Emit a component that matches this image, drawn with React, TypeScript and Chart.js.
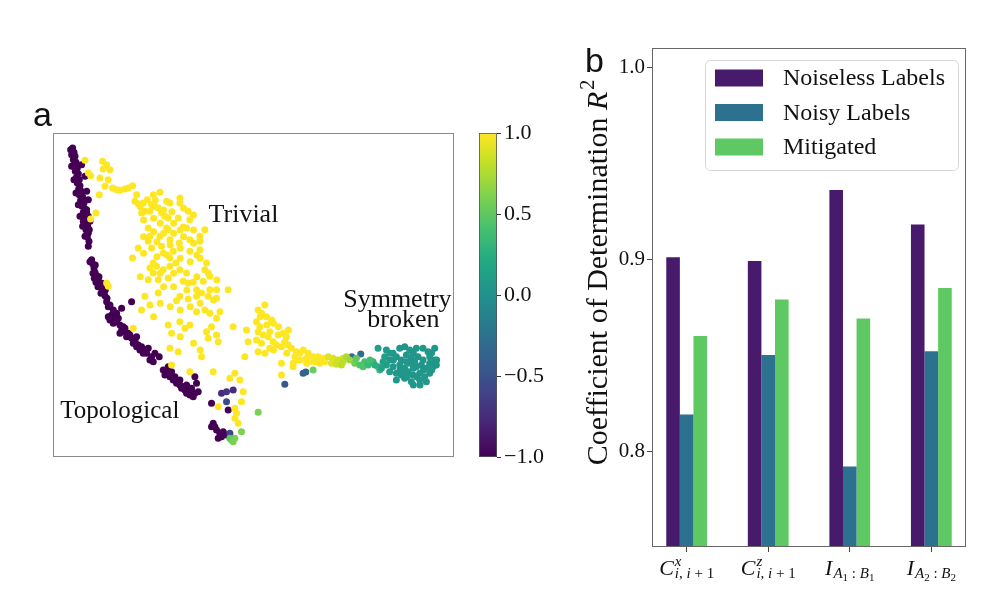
import React, { useEffect, useRef } from 'react';
import { Chart, registerables } from 'chart.js';

Chart.register(...registerables);

const SERIF = '"Liberation Serif", "Times New Roman", serif';
const SANS = '"Liberation Sans", Arial, sans-serif';

// ---------- Panel a: embedding (values read in the picture's own frame) ----------
const purplePts: [number, number][] = [
  [97,54],[101,67],[104,79],[99,89],[107,97],[102,107],[111,114],[105,124],[114,131],[109,141],
  [117,149],[111,159],[119,167],[115,177],[123,184],[117,194],[127,201],[121,211],[131,219],[125,229],
  [134,237],[129,247],[136,255],[131,265],[139,271],[135,281],[142,289],[137,299],[144,309],[141,321],
  [146,334],[144,349],[94,74],[124,224],[139,239],[144,259],[129,274],
  [124,104],[134,139],[139,184],[144,209],[139,249],[149,274],[147,299],
  [91,59],[94,109],[101,149],[107,189],[114,224],[119,259],[127,289],[134,319],
  [154,389],[157,401],[161,414],[164,427],[169,437],[174,449],[167,457],[179,464],[184,474],[189,484],[194,497],
  [149,395],[165,405],[158,430],[176,440],[162,445],[185,460],[173,470],[195,480],[182,490],[200,505],
  [199,515],[204,530],[219,540],[214,555],[224,565],[209,570],[229,575],[239,585],[249,590],[244,600],
  [254,605],[264,610],[259,620],[274,625],[284,630],[279,640],[294,645],[304,650],[299,660],[314,660],
  [324,655],[319,670],[334,680],[329,690],[357,680],[274,515],[244,535],
  [209,525],[229,550],[204,560],[234,565],[219,580],[254,595],[239,610],[269,615],[289,620],[289,650],
  [309,670],[344,670],[339,695],[284,635],
  [369,720],[379,730],[384,710],[389,740],[399,750],[409,760],[419,765],[424,775],[434,780],[444,785],
  [449,795],[459,800],[439,790],[454,775],[464,740],[469,760],[414,753],[429,770],[374,735],
  [394,725],[404,740],[419,750],[439,765],[449,775],[464,790],[474,785],[379,720],
  [514,820],[564,840],[519,880],[514,890],[529,900],[539,910],[549,905],[559,915],[544,920],[524,890],[534,925],
];

const yellowPts: [number, number][] = [
  [134,91],[187,94],[199,104],[189,117],[209,119],[144,129],[151,137],[179,144],[204,149],[194,169],
  [217,174],[229,179],[239,181],[254,177],[264,174],[277,167],[177,194],[289,194],[339,194],[359,187],
  [284,214],[294,221],[309,219],[321,209],[334,224],[344,229],[379,214],[389,219],[419,204],[419,219],
  [354,234],[364,249],[304,249],[314,244],[329,244],[374,259],[384,264],[414,264],[444,244],[449,269],
  [439,294],[429,291],[494,299],[167,249],[151,267],[324,294],[329,319],[379,294],[384,299],[359,319],
  [389,329],[417,339],[449,329],[479,319],[479,334],[324,334],[294,354],[334,354],[364,349],[369,369],
  [399,364],[389,384],[449,364],[479,359],[277,384],[339,399],[349,409],[369,419],[389,409],[407,399],
  [419,419],[329,414],[339,429],[499,399],[494,419],[504,429],[439,429],[199,459],[204,469],[324,449],
  [354,449],[384,444],[429,454],[444,459],[459,457],[489,454],[509,439],[469,479],[484,489],[509,479],
  [529,479],[564,479],[314,499],[354,489],[419,499],[469,499],[504,499],
  [300,230],[345,210],[370,240],[395,245],[430,235],[460,255],[310,270],[340,265],[360,280],[400,280],
  [420,300],[460,300],[340,305],[370,310],[400,310],[430,320],[460,340],[310,320],[350,335],[390,345],
  [420,355],[470,375],[310,370],[350,380],[380,375],[420,385],[450,395],[480,385],[360,430],[400,430],
  [470,440],[300,440],[440,480],[400,470],[370,470],[530,450],[520,510],[480,520],[450,530],[420,540],
  [390,530],[360,520],[340,560],[420,620],[460,640],[480,660],
  [329,525],[304,540],[409,512],[444,507],[529,505],[384,585],[394,610],[419,575],[434,595],[449,585],
  [469,545],[494,540],[509,550],[529,565],[539,545],[514,590],[499,605],[504,625],[529,615],[534,635],
  [389,655],[414,665],[394,705],[449,725],[484,680],[519,725],[579,590],[619,600],[624,635],[614,680],
  [584,730],[599,750],[569,745],[609,785],[604,815],[584,835],[589,850],[584,865],[594,880],[534,830],[279,595],
  [654,540],[674,525],[664,550],[679,560],[694,570],[649,575],[659,590],[654,605],[669,615],[689,605],
  [684,620],[649,630],[664,640],[699,635],[714,615],[729,610],[739,620],[709,645],[724,650],[734,635],
  [744,645],[754,655],[769,665],[764,680],[779,670],[759,700],[724,700],[724,735],[789,660],[804,670],
  [819,680],[834,680],[849,685],[819,695],[839,700],[854,695],[799,685],[759,710],[674,670],[654,665],[689,655],
  [700,580],[715,590],[745,600],[700,660],[740,670],[780,690],[800,700],[830,695],[770,690],[680,585],[660,560],
];

const mixedPts: [number, number][] = [
  [544,790],[559,785],[579,780],[569,910],[559,815],[734,763],[789,730],[797,726],[935,680],[962,672],
  [574,930],[584,925],[569,925],[579,935],[604,905],[654,847],[819,720],
  [864,680],[879,685],[894,690],[909,685],[874,700],[889,703],[904,705],[909,695],[919,680],
  [929,690],[944,700],[949,685],[959,705],[974,695],[969,710],[984,705],[999,695],[1014,710],
  [1019,720],[1004,705],[990,690],
];
const mixedC: number[] = [
  -0.75,-0.7,-0.75,-0.6,-0.55,-0.45,-0.4,-0.35,-0.3,-0.3,
  0.55,0.6,0.5,0.6,0.6,0.6,0.55,
  0.9,0.9,0.85,0.85,0.9,0.85,0.8,0.8,0.75,
  0.7,0.55,0.5,0.45,0.4,0.45,0.35,0.3,0.3,
  0.35,0.25,0.4,
];

const tealPts: [number, number][] = [
  [1014,655],[1039,660],[1059,670],[1079,655],[1094,650],[1109,660],[1129,655],[1149,655],[1164,665],[1184,655],
  [1034,680],[1049,690],[1069,680],[1084,690],[1099,675],[1114,685],[1134,680],[1149,690],[1169,680],[1184,690],
  [1039,705],[1059,710],[1079,705],[1094,715],[1109,700],[1129,710],[1144,705],[1159,715],[1179,710],[1189,705],
  [1049,725],[1069,730],[1084,735],[1104,725],[1119,735],[1139,730],[1154,740],[1169,730],
  [1069,750],[1094,745],[1114,755],[1139,750],[1159,755],[1029,695],[1024,715],[1099,695],[1124,695],[1169,700],
  [1060,690],[1090,730],[1120,715],[1150,720],[1175,720],[1130,740],[1100,740],[1050,670],[1120,670],[1175,668],
  [1190,690],[1080,720],[1140,765],[1120,765],
];
const tealC: number[] = [
  0.12,0.08,0.05,0.05,0.03,0.05,0.04,0.05,0.06,0.04,
  0.1,0.06,0.05,0.04,0.05,0.05,0.03,0.05,0.06,0.04,
  0.1,0.06,0.05,0.04,0.05,0.05,0.04,0.06,0.05,0.03,
  0.08,0.05,0.04,0.05,0.05,0.04,0.06,0.05,
  0.05,0.04,0.05,0.05,0.06,0.12,0.15,0.05,0.04,0.05,
  0.06,0.05,0.04,0.05,0.05,0.04,0.05,0.08,0.04,0.05,
  0.04,0.05,0.05,0.05,
];

const regionNames = ['Trivial', 'Symmetry', 'broken', 'Topological'];
const colorbarTicks = [-1, -0.5, 0, 0.5, 1];

// ---------- Panel b: bars ----------
const metricBase = ['C', 'C', 'I', 'I'];
const metricSup = ['x', 'z', '', ''];
const metricSub: [string, number][][] = [
  [['i', 0], [', ', 0], ['i', 0], [' + ', 0], ['1', 0]],
  [['i', 0], [', ', 0], ['i', 0], [' + ', 0], ['1', 0]],
  [['A', 0], ['1', 1], [' : ', 0], ['B', 0], ['1', 1]],
  [['A', 0], ['2', 1], [' : ', 0], ['B', 0], ['2', 1]],
];
const seriesNames = ['Noiseless Labels', 'Noisy Labels', 'Mitigated'];
const noiseless = [0.901, 0.899, 0.936, 0.918];
const noisy = [0.819, 0.850, 0.792, 0.852];
const mitigated = [0.860, 0.879, 0.869, 0.885];
const barTicks = [0.8, 0.9, 1.0];
const seriesColors = ['#481a6c', '#2c728e', '#5ec962'];

// ---------- colormap ----------
const VIRIDIS = ['#440154', '#482475', '#414487', '#355f8d', '#2a788e', '#21918c', '#22a884', '#44bf70', '#7ad151', '#bddf26', '#fde725'];
function hexRgb(h: string) {
  return [parseInt(h.slice(1, 3), 16), parseInt(h.slice(3, 5), 16), parseInt(h.slice(5, 7), 16)];
}
function viridis(c: number) {
  const t = Math.min(1, Math.max(0, (c + 1) / 2));
  const p = t * (VIRIDIS.length - 1);
  const i = Math.min(VIRIDIS.length - 2, Math.floor(p));
  const f = p - i;
  const a = hexRgb(VIRIDIS[i]);
  const b = hexRgb(VIRIDIS[i + 1]);
  return `rgb(${Math.round(a[0] + (b[0] - a[0]) * f)},${Math.round(a[1] + (b[1] - a[1]) * f)},${Math.round(a[2] + (b[2] - a[2]) * f)})`;
}

function drawMath(ctx: CanvasRenderingContext2D, cx: number, by: number, base: string, sup: string, sub: [string, number][]) {
  const fnt = (t: string, s: number) => `${/[A-Za-z]/.test(t) ? 'italic ' : ''}${s}px ${SERIF}`;
  const B = 22, S1 = 15, S2 = 11;
  ctx.font = fnt(base, B);
  const wb = ctx.measureText(base).width;
  let ws = 0;
  if (sup) { ctx.font = fnt(sup, S1); ws = ctx.measureText(sup).width; }
  let wsub = 0;
  sub.forEach(([t, l]) => { ctx.font = fnt(t, l ? S2 : S1); wsub += ctx.measureText(t).width; });
  const total = wb + 1 + Math.max(ws, wsub);
  const x = cx - total / 2;
  ctx.textAlign = 'left';
  ctx.textBaseline = 'alphabetic';
  ctx.fillStyle = '#111';
  ctx.font = fnt(base, B);
  ctx.fillText(base, x, by);
  const x0 = x + wb + 1;
  if (sup) { ctx.font = fnt(sup, S1); ctx.fillText(sup, x0, by - 9); }
  let xs = x0;
  sub.forEach(([t, l]) => {
    ctx.font = fnt(t, l ? S2 : S1);
    ctx.fillText(t, xs, by + (l ? 6 : 3));
    xs += ctx.measureText(t).width;
  });
}

export default function App() {
  const refA = useRef<HTMLCanvasElement>(null);
  const refB = useRef<HTMLCanvasElement>(null);
  const refC = useRef<HTMLCanvasElement>(null);

  useEffect(() => {
    const points = [
      ...purplePts.map((p) => ({ x: p[0], y: p[1], c: -1 })),
      ...yellowPts.map((p) => ({ x: p[0], y: p[1], c: 1 })),
      ...mixedPts.map((p, i) => ({ x: p[0], y: p[1], c: mixedC[i] })),
      ...tealPts.map((p, i) => ({ x: p[0], y: p[1], c: tealC[i] })),
    ];
    const colors = points.map((p) => viridis(p.c));

    const scatterDeco = {
      id: 'scatterDeco',
      afterDraw(chart: any) {
        const { ctx, chartArea: ca, scales } = chart;
        ctx.save();
        ctx.strokeStyle = '#8a8a8a';
        ctx.lineWidth = 1;
        ctx.strokeRect(Math.round(ca.left) + 0.5, Math.round(ca.top) + 0.5, Math.round(ca.right - ca.left) - 1, Math.round(ca.bottom - ca.top) - 1);
        ctx.fillStyle = '#111';
        ctx.textBaseline = 'alphabetic';
        const sx = (v: number) => scales.x.getPixelForValue(v);
        const sy = (v: number) => scales.y.getPixelForValue(v);
        ctx.font = `26px ${SERIF}`;
        ctx.textAlign = 'left';
        ctx.fillText(regionNames[0], sx(505), sy(275));
        ctx.textAlign = 'center';
        ctx.fillText(regionNames[1], sx(1072), sy(530));
        ctx.fillText(regionNames[2], sx(1090), sy(592));
        ctx.textAlign = 'left';
        ctx.font = `25px ${SERIF}`;
        ctx.fillText(regionNames[3], sx(60), sy(865));
        ctx.font = `34px ${SANS}`;
        ctx.fillText('a', 13, 36);
        ctx.restore();
      },
    };

    const chartA = new Chart(refA.current!, {
      type: 'scatter',
      data: {
        datasets: [{
          data: points,
          backgroundColor: colors,
          borderColor: colors,
          pointRadius: 3.5,
          pointBorderWidth: 0,
          pointHoverRadius: 3.5,
        }],
      },
      options: {
        responsive: false,
        animation: false,
        events: [],
        layout: { padding: { left: 33, top: 43, right: 16, bottom: 23 } },
        plugins: { legend: { display: false }, tooltip: { enabled: false } },
        scales: {
          x: { type: 'linear', display: false, min: 38, max: 1242 },
          y: { type: 'linear', display: false, min: 9, max: 981, reverse: true },
        },
      },
      plugins: [scatterDeco],
    } as any);

    const cbDeco = {
      id: 'cbDeco',
      beforeDatasetsDraw(chart: any) {
        const { ctx, chartArea: ca, scales } = chart;
        const y0 = scales.y.getPixelForValue(colorbarTicks[0]);
        const y1 = scales.y.getPixelForValue(colorbarTicks[colorbarTicks.length - 1]);
        const g = ctx.createLinearGradient(0, y0, 0, y1);
        VIRIDIS.forEach((c, i) => g.addColorStop(i / (VIRIDIS.length - 1), c));
        ctx.save();
        ctx.fillStyle = g;
        ctx.fillRect(ca.left, y1, ca.right - ca.left, y0 - y1);
        ctx.strokeStyle = '#555';
        ctx.lineWidth = 0.8;
        ctx.strokeRect(ca.left + 0.5, y1 + 0.5, ca.right - ca.left - 1, y0 - y1 - 1);
        ctx.restore();
      },
    };

    const chartC = new Chart(refC.current!, {
      type: 'scatter',
      data: { datasets: [] },
      options: {
        responsive: false,
        animation: false,
        events: [],
        layout: { padding: { left: 9, top: 23, right: 13, bottom: 23 } },
        plugins: { legend: { display: false }, tooltip: { enabled: false } },
        scales: {
          x: { type: 'linear', display: false, min: 0, max: 1 },
          y: {
            type: 'linear',
            position: 'right',
            min: -1,
            max: 1,
            afterBuildTicks: (s: any) => { s.ticks = colorbarTicks.map((v) => ({ value: v })); },
            afterFit: (s: any) => { s.width = 60; },
            border: { display: false },
            grid: { display: true, drawOnChartArea: false, drawTicks: true, tickLength: 4, color: '#333' },
            ticks: {
              padding: 3,
              color: '#111',
              font: { family: SERIF, size: 22 },
              callback: (v: any) => (v < 0 ? '\u2212' : '') + Math.abs(Number(v)).toFixed(1),
            },
          },
        },
      },
      plugins: [cbDeco],
    } as any);

    const barDeco = {
      id: 'barDeco',
      afterDraw(chart: any) {
        const { ctx, chartArea: ca, scales } = chart;
        ctx.save();
        ctx.strokeStyle = '#666';
        ctx.lineWidth = 1;
        ctx.strokeRect(Math.round(ca.left) + 0.5, Math.round(ca.top) + 0.5, Math.round(ca.right - ca.left) - 1, Math.round(ca.bottom - ca.top) - 1);

        // legend
        const bw = 253, bh = 110;
        const bx = ca.right - 8 - bw, by = ca.top + 12;
        ctx.beginPath();
        (ctx as any).roundRect(bx + 0.5, by + 0.5, bw, bh, 5);
        ctx.fillStyle = 'rgba(255,255,255,0.85)';
        ctx.fill();
        ctx.strokeStyle = '#d6d6d6';
        ctx.stroke();
        chart.data.datasets.forEach((ds: any, i: number) => {
          const cy = by + 18 + 34.5 * i;
          ctx.fillStyle = ds.backgroundColor;
          ctx.fillRect(bx + 10, cy - 8.5, 48, 17);
          ctx.fillStyle = '#111';
          ctx.font = `24px ${SERIF}`;
          ctx.textAlign = 'left';
          ctx.textBaseline = 'middle';
          ctx.fillText(ds.label, bx + 78, cy + 1);
        });

        // x tick labels
        metricBase.forEach((b, i) => {
          drawMath(ctx, scales.x.getPixelForValue(i), ca.bottom + 28, b, metricSup[i], metricSub[i]);
        });

        // y title
        ctx.save();
        ctx.translate(47, (ca.top + ca.bottom) / 2 - 25);
        ctx.rotate(-Math.PI / 2);
        ctx.textAlign = 'left';
        ctx.textBaseline = 'alphabetic';
        ctx.fillStyle = '#111';
        const t1 = 'Coefficient of Determination ';
        ctx.font = `30px ${SERIF}`;
        const w1 = ctx.measureText(t1).width;
        ctx.font = `italic 30px ${SERIF}`;
        const w2 = ctx.measureText('R').width;
        ctx.font = `20px ${SERIF}`;
        const w3 = ctx.measureText('2').width;
        let x = -(w1 + w2 + 2 + w3) / 2;
        ctx.font = `30px ${SERIF}`;
        ctx.fillText(t1, x, 0);
        x += w1;
        ctx.font = `italic 30px ${SERIF}`;
        ctx.fillText('R', x, 0);
        x += w2 + 2;
        ctx.font = `20px ${SERIF}`;
        ctx.fillText('2', x, -13);
        ctx.restore();

        ctx.fillStyle = '#111';
        ctx.font = `34px ${SANS}`;
        ctx.textAlign = 'left';
        ctx.textBaseline = 'alphabetic';
        ctx.fillText('b', 25, 52);
        ctx.restore();
      },
    };

    const series = [noiseless, noisy, mitigated];
    const chartB = new Chart(refB.current!, {
      type: 'bar',
      data: {
        datasets: series.map((vals, k) => ({
          label: seriesNames[k],
          data: vals.map((v, i) => ({ x: i, y: v })),
          backgroundColor: seriesColors[k],
          borderWidth: 0,
          categoryPercentage: 0.5,
          barPercentage: 1.0,
        })),
      },
      options: {
        responsive: false,
        animation: false,
        events: [],
        layout: { padding: { left: 0, top: 28, right: 24, bottom: 0 } },
        plugins: { legend: { display: false }, tooltip: { enabled: false } },
        scales: {
          x: {
            type: 'linear',
            min: -0.425,
            max: 3.425,
            offset: false,
            afterBuildTicks: (s: any) => { s.ticks = metricBase.map((_, i) => ({ value: i })); },
            afterFit: (s: any) => { s.height = 50; },
            border: { display: false },
            grid: { display: true, offset: false, drawOnChartArea: false, drawTicks: true, tickLength: 5, color: '#444' },
            ticks: { display: false },
          },
          y: {
            type: 'linear',
            min: 0.75,
            max: 1.01,
            afterBuildTicks: (s: any) => { s.ticks = barTicks.map((v) => ({ value: v })); },
            afterFit: (s: any) => { s.width = 92; },
            border: { display: false },
            grid: { display: true, drawOnChartArea: false, drawTicks: true, tickLength: 5, color: '#444' },
            ticks: {
              padding: 2,
              color: '#111',
              font: { family: SERIF, size: 21 },
              callback: (v: any) => Number(v).toFixed(1),
            },
          },
        },
      },
      plugins: [barDeco],
    } as any);

    return () => {
      chartA.destroy();
      chartB.destroy();
      chartC.destroy();
    };
  }, []);

  return (
    <div style={{ position: 'relative', width: 981, height: 581 }}>
      <canvas ref={refA} width={450} height={390} style={{ position: 'absolute', left: 20 - 8, top: 90 - 8 }} />
      <canvas ref={refC} width={100} height={370} style={{ position: 'absolute', left: 470 - 8, top: 110 - 8 }} />
      <canvas ref={refB} width={430} height={577} style={{ position: 'absolute', left: 560 - 8, top: 20 - 8 }} />
    </div>
  );
}
